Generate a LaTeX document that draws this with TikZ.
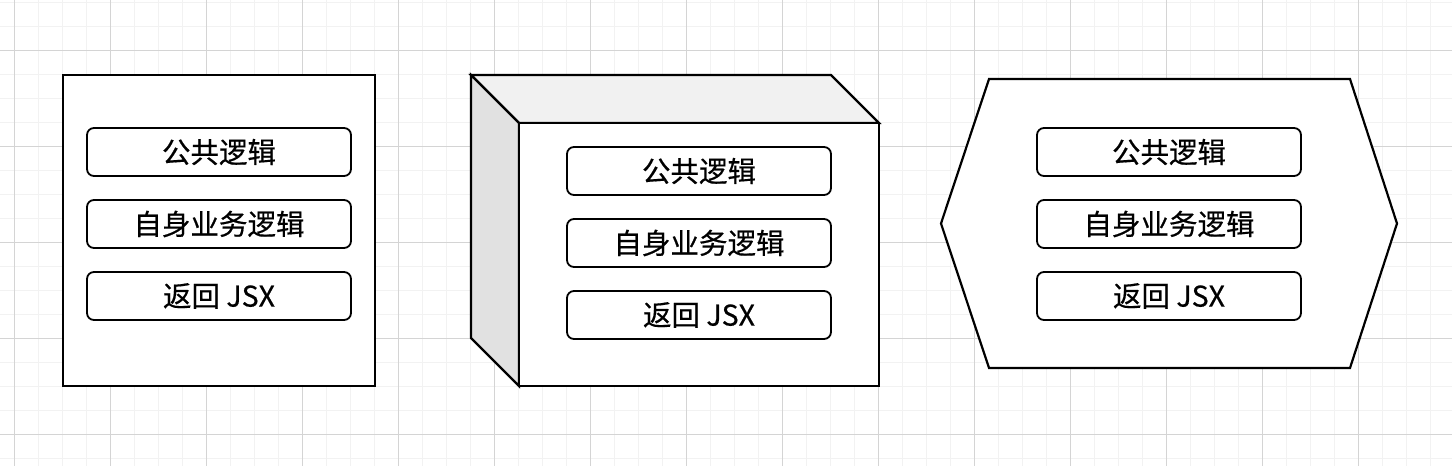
\documentclass[tikz,border=0pt]{standalone}
\usepackage{fontspec}
\newfontfamily\itemfont{Noto Sans CJK SC}[FakeBold=0.5]
\definecolor{gminor}{HTML}{F2F2F2}
\definecolor{gmajor}{HTML}{D4D4D4}
\definecolor{topface}{HTML}{F1F1F1}
\definecolor{sideface}{HTML}{E1E1E1}
\tikzset{
  outer/.style={draw=black, line width=2.2pt, fill=white, line join=miter},
  item/.style={draw=black, line width=1.8pt, fill=white, rounded corners=7pt,
    minimum width=264pt, minimum height=48pt, inner sep=0pt,
    font=\itemfont\fontsize{28.5pt}{32pt}\selectfont, anchor=center},
}
\begin{document}
\begin{tikzpicture}[x=1pt,y=-1pt]
\useasboundingbox (0,0) rectangle (1452,466);
\fill[white] (0,0) rectangle (1452,466);
% grid
\foreach \i in {0,...,60} {\draw[gminor, line width=1pt] ({14+24*\i-24},0) -- ({14+24*\i-24},466);}
\foreach \i in {0,...,20} {\draw[gminor, line width=1pt] (0,{2+24*\i}) -- (1452,{2+24*\i});}
\foreach \i in {0,...,15} {\draw[gmajor, line width=1pt] ({14+96*\i},0) -- ({14+96*\i},466);}
\foreach \i in {0,...,4} {\draw[gmajor, line width=1pt] (0,{50+96*\i}) -- (1452,{50+96*\i});}

% box 1
\node[outer, minimum width=312pt, minimum height=311pt, inner sep=0pt] (b1) at (219,230.5) {};
\node[item] (b1a) at (219,152) {公共逻辑};
\node[item] (b1b) at (219,224) {自身业务逻辑};
\node[item] (b1c) at (219,296) {返回 JSX};

% box 2 (3D)
\coordinate (p1) at (471,75);
\coordinate (p2) at (831,75);
\coordinate (p3) at (879,123);
\coordinate (p4) at (519,123);
\coordinate (p5) at (519,386);
\coordinate (p6) at (471,338);
\coordinate (p7) at (879,386);
\filldraw[outer, fill=topface] (p1) -- (p2) -- (p3) -- (p4) -- cycle;
\filldraw[outer, fill=sideface] (p1) -- (p4) -- (p5) -- (p6) -- cycle;
\filldraw[outer] (p4) -- (p3) -- (p7) -- (p5) -- cycle;
\node[item] (b2a) at (699,171) {公共逻辑};
\node[item] (b2b) at (699,243) {自身业务逻辑};
\node[item] (b2c) at (699,315) {返回 JSX};

% hexagon
\coordinate (h1) at (989,79);
\coordinate (h2) at (1350,79);
\coordinate (h3) at (1397,223.5);
\coordinate (h4) at (1350,368);
\coordinate (h5) at (989,368);
\coordinate (h6) at (941,223.5);
\filldraw[outer] (h1) -- (h2) -- (h3) -- (h4) -- (h5) -- (h6) -- cycle;
\node[item] (b3a) at (1169,152) {公共逻辑};
\node[item] (b3b) at (1169,224) {自身业务逻辑};
\node[item] (b3c) at (1169,296) {返回 JSX};
\end{tikzpicture}
\end{document}
